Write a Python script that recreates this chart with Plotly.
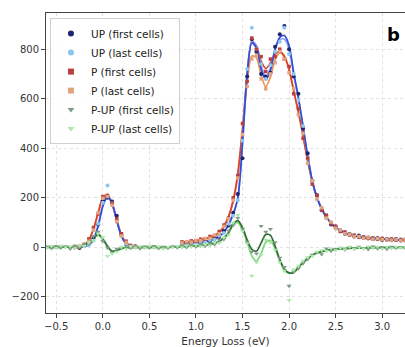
import plotly.graph_objects as go

# ---------------- data ----------------
# zero-loss window energies (eV)
x_zl = [-0.30, -0.25, -0.20, -0.15, -0.10, -0.05, 0.00, 0.05, 0.10, 0.15, 0.20, 0.25, 0.30, 0.35]
# main window energies (eV)
x_main = [0.85, 0.90, 0.95, 1.00, 1.05, 1.10, 1.15, 1.20, 1.25, 1.30,
          1.35, 1.40, 1.45, 1.50, 1.55, 1.60, 1.65, 1.70, 1.75, 1.80,
          1.85, 1.90, 1.95, 2.00, 2.05, 2.10, 2.15, 2.20, 2.25, 2.30,
          2.35, 2.40, 2.45, 2.50, 2.55, 2.60, 2.65, 2.70, 2.75, 2.80,
          2.85, 2.90, 2.95, 3.00, 3.05, 3.10, 3.15, 3.20, 3.25]
# full energy range for the difference spectra
x_all = [-0.60, -0.55, -0.50, -0.45, -0.40, -0.35, -0.30, -0.25, -0.20, -0.15,
         -0.10, -0.05, 0.00, 0.05, 0.10, 0.15, 0.20, 0.25, 0.30, 0.35,
         0.40, 0.45, 0.50, 0.55, 0.60, 0.65, 0.70, 0.75, 0.80, 0.85,
         0.90, 0.95, 1.00, 1.05, 1.10, 1.15, 1.20, 1.25, 1.30, 1.35,
         1.40, 1.45, 1.50, 1.55, 1.60, 1.65, 1.70, 1.75, 1.80, 1.85,
         1.90, 1.95, 2.00, 2.05, 2.10, 2.15, 2.20, 2.25, 2.30, 2.35,
         2.40, 2.45, 2.50, 2.55, 2.60, 2.65, 2.70, 2.75, 2.80, 2.85,
         2.90, 2.95, 3.00, 3.05, 3.10, 3.15, 3.20, 3.25]

# fitted curves, zero-loss window
up_first_fit_zl = [0, 1, 3, 10, 30, 85, 165, 205, 178, 108, 45, 15, 5, 2]
up_last_fit_zl = [0, 1, 3, 11, 32, 90, 172, 212, 180, 108, 44, 14, 5, 2]
p_first_fit_zl = [1, 3, 10, 30, 75, 140, 200, 212, 175, 110, 50, 18, 6, 2]
p_last_fit_zl = [1, 3, 9, 28, 72, 136, 196, 208, 172, 108, 48, 17, 6, 2]
# measured points, zero-loss window
up_first_pts_zl = [2, -3, 5, 14, 38, 92, 190, 200, 185, 128, 50, 20, 3, 4]
up_last_pts_zl = [0, 2, 4, 9, 28, 95, 180, 250, 178, 110, 48, 12, 6, 1]
p_first_pts_zl = [3, 0, 12, 34, 80, 135, 205, 210, 178, 115, 55, 25, 8, 3]
p_last_pts_zl = [0, 5, 8, 25, 70, 140, 198, 205, 170, 104, 46, 20, 4, 2]

# fitted curves, main window
up_first_fit = [15, 16, 18, 19, 21, 24, 28, 35, 45, 62,
                92, 135, 200, 420, 700, 825, 805, 720, 676, 715,
                800, 848, 855, 815, 705, 605, 490, 370, 268, 200,
                155, 122, 98, 80, 68, 59, 52, 47, 43, 40,
                38, 36, 35, 34, 33, 32, 31, 30, 30]
up_last_fit = [14, 15, 17, 18, 20, 23, 27, 33, 43, 60,
               90, 132, 198, 415, 700, 830, 815, 735, 690, 725,
               800, 838, 840, 800, 695, 600, 485, 368, 266, 200,
               155, 122, 98, 80, 68, 59, 52, 47, 43, 40,
               38, 36, 35, 34, 33, 32, 31, 30, 30]
p_first_fit = [20, 22, 24, 27, 30, 35, 40, 48, 60, 85,
               125, 190, 300, 480, 690, 832, 812, 752, 722, 745,
               780, 790, 772, 720, 632, 548, 452, 350, 265, 202,
               157, 124, 99, 81, 68, 59, 52, 47, 43, 40,
               38, 36, 35, 34, 33, 32, 31, 30, 30]
p_last_fit = [19, 21, 23, 26, 29, 34, 39, 47, 58, 82,
              120, 183, 290, 465, 665, 772, 765, 695, 648, 688,
              757, 785, 768, 716, 630, 545, 450, 348, 264, 201,
              156, 123, 98, 80, 67, 58, 51, 46, 42, 39,
              37, 35, 34, 33, 32, 31, 30, 29, 29]
# measured points, main window
up_first_pts = [12, 18, 15, 22, 19, 27, 25, 38, 42, 66,
                88, 140, 215, 360, 690, 840, 790, 700, 690, 705,
                810, 860, 894, 800, 690, 620, 480, 380, 270, 210,
                150, 128, 92, 84, 70, 55, 54, 44, 48, 38,
                40, 33, 38, 30, 35, 29, 34, 28, 32]
up_last_pts = [16, 14, 20, 17, 23, 22, 30, 31, 47, 58,
               95, 128, 190, 430, 720, 886, 800, 740, 680, 735,
               790, 830, 886, 780, 700, 595, 490, 360, 262, 195,
               160, 118, 100, 76, 70, 60, 50, 49, 41, 42,
               36, 37, 33, 35, 31, 33, 30, 31, 28]
p_first_pts = [22, 20, 26, 25, 33, 33, 44, 46, 64, 90,
               118, 200, 290, 500, 670, 845, 800, 770, 710, 760,
               770, 800, 760, 730, 620, 560, 440, 360, 255, 210,
               150, 130, 95, 85, 64, 62, 50, 49, 41, 42,
               36, 38, 33, 36, 31, 34, 29, 32, 28]
p_last_pts = [18, 23, 21, 28, 27, 36, 37, 50, 55, 85,
              115, 190, 280, 455, 650, 760, 775, 680, 640, 700,
              745, 790, 760, 705, 640, 535, 460, 340, 270, 195,
              160, 118, 102, 77, 70, 55, 53, 44, 44, 37,
              39, 33, 36, 31, 34, 29, 32, 27, 31]

# difference spectra (P - UP)
pup_first_fit = [0, 0, 0, 0, 1, 1, 2, 4, 8, 18,
                 38, 52, 35, 5, -15, -12, -5, -2, 0, 0,
                 0, 0, 0, 0, 0, 0, 0, 1, 2, 3,
                 4, 5, 6, 8, 10, 13, 17, 25, 38, 60,
                 95, 108, 80, 30, -8, -15, 18, 52, 48, 5,
                 -48, -88, -103, -102, -82, -62, -45, -32, -23, -17,
                 -13, -10, -8, -6, -5, -4, -3, -3, -2, -2,
                 -1, -1, -1, 0, 0, 0, 0, 0]
pup_last_fit = [0, 0, 0, 0, 1, 1, 2, 3, 7, 15,
                34, 48, 32, 2, -18, -13, -5, -2, 0, 0,
                0, 0, 0, 0, 0, 0, 0, 1, 2, 3,
                4, 5, 6, 7, 9, 12, 16, 23, 35, 56,
                90, 100, 72, 20, -35, -55, -25, 20, 28, -5,
                -55, -92, -105, -100, -80, -60, -44, -31, -22, -16,
                -12, -9, -7, -6, -5, -4, -3, -2, -2, -1,
                -1, -1, 0, 0, 0, 0, 0, 0]
pup_first_pts = [3, -4, 5, -2, 4, -6, 6, 0, 12, 14,
                 45, 62, 25, -2, -22, -6, -4, 5, -3, 2,
                 -5, 3, -2, 5, -4, 2, -3, 4, -1, 6,
                 0, 9, 3, 11, 5, 16, 12, 30, 33, 68,
                 90, 118, 75, 22, -18, -25, 86, 62, 74, 20,
                 -42, -80, -156, -98, -85, -65, -48, -30, -20, -28,
                 -5, -15, -8, -2, -10, 0, -6, 2, -4, -8,
                 3, -5, 0, -7, 2, -3, 1, -4]
pup_last_pts = [-2, 5, -3, 6, -1, 3, -4, 7, 5, 20,
                28, 55, 40, -35, -25, -18, 2, -6, 4, -2,
                4, -3, 6, -2, 3, -5, 2, -1, 5, 0,
                7, 2, 9, 4, 12, 8, 20, 18, 40, 50,
                100, 130, 65, 15, -115, -60, -30, 30, 20, -10,
                -60, -95, -213, -90, -75, -55, -40, -35, -18, -12,
                -15, -5, -12, -3, -8, 2, -6, -1, -5, 3,
                -3, 2, -6, 1, -4, 2, -2, 0]

x_ticks = [-0.5, 0.0, 0.5, 1.0, 1.5, 2.0, 2.5, 3.0]
x_tick_text = ["\u22120.5", "0.0", "0.5", "1.0", "1.5", "2.0", "2.5", "3.0"]
y_ticks = [-200, 0, 200, 400, 600, 800]

# ---------------- figure ----------------
x_two = x_zl + [None] + x_main


def join(a, b):
    return a + [None] + b


fig = go.Figure()

lines = [
    (x_two, join(p_last_fit_zl, p_last_fit), "#f0904e"),
    (x_two, join(p_first_fit_zl, p_first_fit), "#d9432c"),
    (x_two, join(up_last_fit_zl, up_last_fit), "#94a4ee"),
    (x_two, join(up_first_fit_zl, up_first_fit), "#2f4fd8"),
    (x_all, pup_last_fit, "#7fd67f"),
    (x_all, pup_first_fit, "#2f6e34"),
]
for xs, ys, col in lines:
    fig.add_trace(go.Scatter(x=xs, y=ys, mode="lines", showlegend=False,
                             line=dict(color=col, width=1.7, shape="spline", smoothing=0.8),
                             hoverinfo="skip"))

points = [
    ("UP (first cells)", x_two, join(up_first_pts_zl, up_first_pts), "#1c2470", "circle", 4),
    ("UP (last cells)", x_two, join(up_last_pts_zl, up_last_pts), "#8cc6ef", "circle", 4),
    ("P (first cells)", x_two, join(p_first_pts_zl, p_first_pts), "#bb3f3f", "square", 3.5),
    ("P (last cells)", x_two, join(p_last_pts_zl, p_last_pts), "#e2a47c", "square", 3.5),
    ("P-UP (first cells)", x_all, pup_first_pts, "#7f9c84", "triangle-down", 4.5),
    ("P-UP (last cells)", x_all, pup_last_pts, "#a8e8a8", "triangle-down", 4.5),
]
for name, xs, ys, col, sym, sz in points:
    fig.add_trace(go.Scatter(x=xs, y=ys, mode="markers", name=name, showlegend=False,
                             marker=dict(color=col, symbol=sym, size=sz, line=dict(width=0))))
# legend entries (slightly larger symbols, as in the reference legend)
for name, xs, ys, col, sym, sz in points:
    fig.add_trace(go.Scatter(x=[None], y=[None], mode="markers", name=name,
                             marker=dict(color=col, symbol=sym, size=6, line=dict(width=0))))

fig.add_annotation(text="<b>b</b>", xref="paper", yref="paper", x=0.967, y=0.927,
                   xanchor="center", yanchor="middle",
                   showarrow=False, font=dict(size=18, color="black", family="DejaVu Sans"))

fig.update_layout(
    width=405, height=347,
    margin=dict(l=46, r=0, t=13, b=34),
    paper_bgcolor="white", plot_bgcolor="white",
    font=dict(family="DejaVu Sans", size=10, color="#333333"),
    legend=dict(x=0.011, y=0.983, xanchor="left", yanchor="top",
                bgcolor="rgba(255,255,255,0.85)", bordercolor="#d0d0d0", borderwidth=1,
                font=dict(size=10.5, color="#222222"), itemwidth=30),
)
fig.update_xaxes(range=[-0.61, 3.245], tickvals=x_ticks, ticktext=x_tick_text,
                 showgrid=True, gridcolor="#e2e2e2", griddash="dot", gridwidth=1,
                 showline=True, linecolor="#444444", linewidth=1, mirror=True,
                 ticks="outside", ticklen=4, tickcolor="#444444", zeroline=False,
                 title=dict(text="Energy Loss (eV)", font=dict(size=10.5), standoff=9))
fig.update_yaxes(range=[-265, 946], tickvals=y_ticks,
                 showgrid=True, gridcolor="#e2e2e2", griddash="dot", gridwidth=1,
                 showline=True, linecolor="#444444", linewidth=1, mirror=False,
                 ticks="outside", ticklen=4, tickcolor="#444444", zeroline=False)

fig.write_html("out.html")
